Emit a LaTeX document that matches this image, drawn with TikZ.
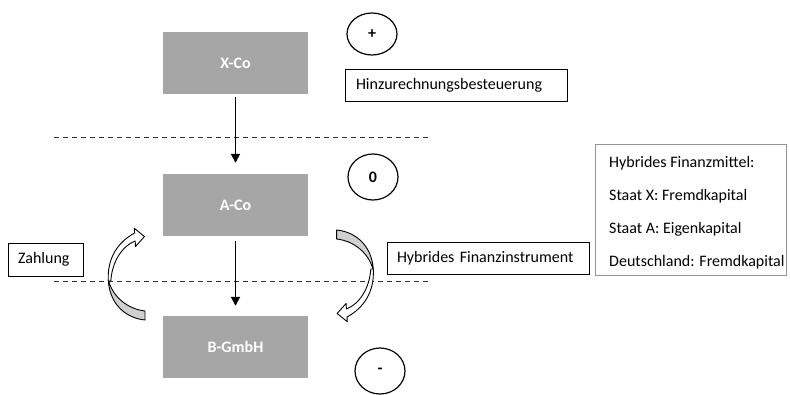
\documentclass[tikz,border=0pt]{standalone}
\usepackage{fontspec}
\setmainfont{Carlito}
\usetikzlibrary{arrows.meta,shapes.geometric}
\definecolor{boxgray}{HTML}{A6A6A6}
\definecolor{ribbongray}{HTML}{D0D0D0}
\tikzset{
  entity/.style={fill=boxgray, text=white, font=\fontsize{16}{19}\selectfont\bfseries,
    minimum width=145pt, minimum height=62pt, inner sep=0pt},
  label box/.style={draw=black, line width=0.9pt, font=\fontsize{16}{19}\selectfont,
    inner ysep=0pt, minimum height=32pt, align=left},
  sign/.style={draw=black, line width=1.2pt, ellipse, font=\fontsize{16}{19}\selectfont\bfseries,
    inner sep=0pt},
  flow/.style={line width=1.8pt, -{Triangle[length=9pt,width=9pt]}},
  divider/.style={dash pattern=on 5pt off 4pt, line width=0.9pt, draw=black!80},
  ribbon/.style={draw=black, line width=0.9pt, line join=round},
  infoline/.style={anchor=west, font=\fontsize{16}{19}\selectfont, inner sep=0pt}
}
\newcommand{\ribbonarrow}{%
  \draw[ribbon, fill=ribbongray] (145,311) -- (145,320)
     .. controls (124,318) and (109,302) .. (108.3,279.5)
     .. controls (112,296) and (127,309) .. (145,311) -- cycle;
  \draw[ribbon, fill=white] (108.3,281)
     .. controls (107,258) and (118,242) .. (134.6,233)
     -- (134.3,228.3) -- (144.5,236.5) -- (135.5,246.5) -- (135.2,241)
     .. controls (122,246) and (112,262) .. (110.8,281) -- cycle;
}
\begin{document}
\begin{tikzpicture}[x=1pt, y=-1pt]
\useasboundingbox[fill=white] (0,0) rectangle (790,395);

% dashed dividers
\coordinate (d1a) at (54,137); \coordinate (d1b) at (430,137);
\coordinate (d2a) at (54,281); \coordinate (d2b) at (430,281);
\draw[divider] (d1a) -- (d1b);
\draw[divider] (d2a) -- (d2b);

% entities
\node[entity] (xco) at (235.5,63) {X-Co};
\node[entity] (aco) at (235.5,205) {A-Co};
\node[entity] (bgmbh) at (235.5,347) {B-GmbH};

\draw[flow, shorten <=3pt, shorten >=11pt] (xco.south) -- (aco.north);
\draw[flow, shorten <=5pt, shorten >=10pt] (aco.south) -- (bgmbh.north);

% signs
\node[sign, minimum width=50pt, minimum height=42pt] (plus) at (372,34) {+};
\node[sign, minimum width=50pt, minimum height=46pt] (zero) at (373,177) {0};
\node[sign, minimum width=50pt, minimum height=46pt] (minus) at (380,371) {-};

% labels
\node[label box, text width=200pt, inner xsep=11pt] (hinz) at (456,85) {Hinzurechnungsbesteuerung};
\node[label box, text width=55pt, inner xsep=10pt, minimum height=33pt] (zahl) at (45.5,259.5) {Zahlung};
\node[label box, text width=182pt, inner xsep=10pt] (hyb) at (488,258) {Hybrides Finanzinstrument};

% info box
\node[draw=gray!85, line width=0.9pt, minimum width=191pt, minimum height=131pt, inner sep=0pt] (info) at (690.5,209.5) {};
\node[infoline] (i1) at (609,163) {Hybrides Finanzmittel:};
\node[infoline] (i2) at (609,196) {Staat X: Fremdkapital};
\node[infoline] (i3) at (609,229) {Staat A: Eigenkapital};
\node[infoline] (i4) at (609,262) {Deutschland: Fremdkapital};

% curved ribbon arrows
\ribbonarrow
\begin{scope}[rotate around={180:(240.8,275)}]
\ribbonarrow
\end{scope}
\end{tikzpicture}
\end{document}
